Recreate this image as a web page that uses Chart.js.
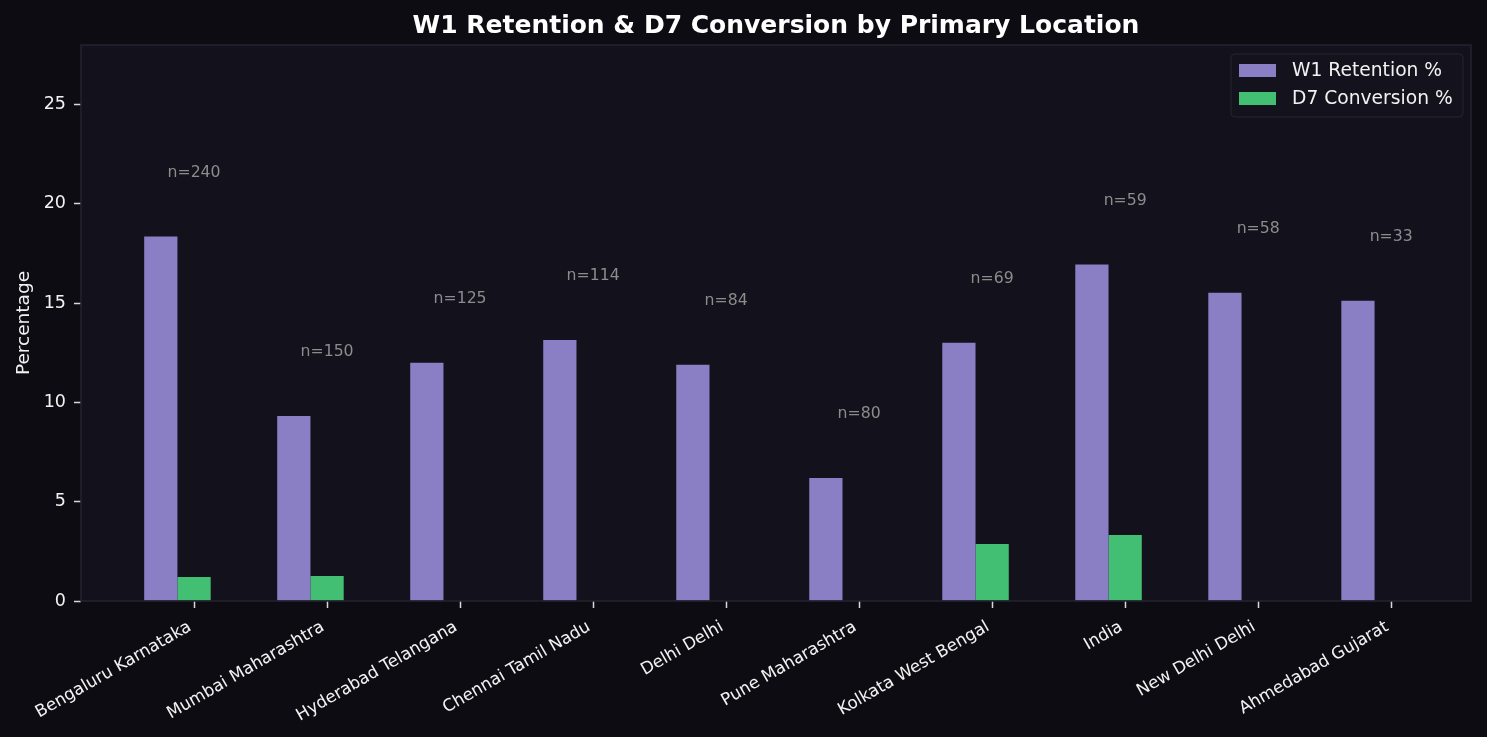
<!DOCTYPE html>
<html>
<head>
<meta charset="utf-8">
<script src="https://cdn.jsdelivr.net/npm/chart.js@4/dist/chart.umd.min.js"></script>
<style>
  html, body { margin: 0; padding: 0; background: #0e0c13; }
  canvas { display: block; }
</style>
</head>
<body>
<canvas id="locationChart" width="1487" height="737"></canvas>
<script>
const locations = [
  "Bengaluru Karnataka", "Mumbai Maharashtra", "Hyderabad Telangana",
  "Chennai Tamil Nadu", "Delhi Delhi", "Pune Maharashtra",
  "Kolkata West Bengal", "India", "New Delhi Delhi", "Ahmedabad Gujarat"
];
const w1Retention = [18.35, 9.32, 12.0, 13.15, 11.9, 6.2, 13.0, 16.94, 15.52, 15.12];
const d7Conversion = [1.21, 1.26, 0, 0, 0, 0, 2.87, 3.33, 0, 0];
const sampleSizes = [240, 150, 125, 114, 84, 80, 69, 59, 58, 33];
const yTicks = [0, 5, 10, 15, 20, 25];
const chartTitle = "W1 Retention & D7 Conversion by Primary Location";

const AX_BG = "#13111c";
const SPINE = "#25232f";
const TEXT = "#f2f2f2";
// the pair of bars sits left of the tick (W1 at i-0.25, D7 at i), like the source plot
const groupShift = -0.125;

// title, plot background + frame, n= labels, legend box
const decor = {
  id: "decor",
  beforeDatasetsDraw(chart) {
    const { ctx, chartArea: a } = chart;
    ctx.save();
    ctx.fillStyle = AX_BG;
    ctx.fillRect(a.left, a.top, a.right - a.left, a.bottom - a.top);
    ctx.restore();
  },
  afterDatasetsDraw(chart) {
    const { ctx, chartArea: a, scales } = chart;
    ctx.save();
    ctx.strokeStyle = SPINE;
    ctx.lineWidth = 1.5;
    ctx.strokeRect(a.left, a.top, a.right - a.left, a.bottom - a.top);

    ctx.fillStyle = "#ffffff";
    ctx.font = "bold 25px 'DejaVu Sans'";
    ctx.textAlign = "center";
    ctx.textBaseline = "middle";
    ctx.fillText(chartTitle, (a.left + a.right) / 2, 26);

    ctx.fillStyle = "#8c8c8c";
    ctx.font = "15.7px 'DejaVu Sans'";
    ctx.textBaseline = "alphabetic";
    sampleSizes.forEach((n, i) => {
      const top = Math.max(w1Retention[i], d7Conversion[i]) + 3;
      ctx.fillText("n=" + n, scales.x.getPixelForValue(i), scales.y.getPixelForValue(top));
    });

    // legend
    const lx = a.right - 240, ly = a.top + 9, lw = 232, lh = 63;
    ctx.fillStyle = "#14121d";
    ctx.strokeStyle = "#262430";
    ctx.lineWidth = 1;
    ctx.beginPath();
    ctx.roundRect(lx, ly, lw, lh, 4);
    ctx.fill();
    ctx.stroke();
    ctx.font = "18.7px 'DejaVu Sans'";
    ctx.textAlign = "left";
    ctx.textBaseline = "middle";
    chart.data.datasets.forEach((ds, k) => {
      const cy = ly + 16.5 + k * 28;
      ctx.fillStyle = ds.backgroundColor;
      ctx.fillRect(lx + 8, cy - 6.5, 37, 13);
      ctx.fillStyle = TEXT;
      ctx.fillText(ds.label, lx + 61, cy + 1);
    });
    ctx.restore();
  }
};

new Chart(document.getElementById("locationChart"), {
  type: "bar",
  data: {
    datasets: [
      {
        label: "W1 Retention %",
        data: locations.map((_, i) => ({ x: i + groupShift, y: w1Retention[i] })),
        backgroundColor: "#8a7fc4",
        categoryPercentage: 0.5,
        barPercentage: 1.0,
      },
      {
        label: "D7 Conversion %",
        data: locations.map((_, i) => ({ x: i + groupShift, y: d7Conversion[i] })),
        backgroundColor: "#42bf72",
        categoryPercentage: 0.5,
        barPercentage: 1.0,
      },
    ],
  },
  options: {
    responsive: false,
    animation: false,
    events: [],
    layout: { padding: { left: 0, right: 16, top: 45, bottom: 0 } },
    scales: {
      x: {
        type: "linear",
        min: -0.85,
        max: 9.6,
        offset: false,
        grid: { drawOnChartArea: false, offset: false, color: "#d8d8d8", tickLength: 7, tickWidth: 1.5 },
        border: { display: false },
        afterBuildTicks: (scale) => {
          scale.ticks = locations.map((_, i) => ({ value: i }));
        },
        afterFit: (scale) => { scale.height = 136; },
        ticks: {
          autoSkip: false,
          minRotation: 30,
          maxRotation: 30,
          padding: 9,
          labelOffset: -4,
          color: TEXT,
          font: { family: "'DejaVu Sans'", size: 16.8 },
          callback: (v) => locations[v],
        },
      },
      y: {
        min: 0,
        max: 28,
        grid: { drawOnChartArea: false, color: "#d8d8d8", tickLength: 7, tickWidth: 1.5 },
        border: { display: false },
        afterBuildTicks: (scale) => {
          scale.ticks = yTicks.map((v) => ({ value: v }));
        },
        afterFit: (scale) => { scale.width = 81; },
        ticks: {
          padding: 8,
          color: TEXT,
          font: { family: "'DejaVu Sans'", size: 17.5 },
        },
        title: {
          display: true,
          text: "Percentage",
          color: TEXT,
          padding: { top: 13, bottom: 0 },
          font: { family: "'DejaVu Sans'", size: 18.5 },
        },
      },
    },
    plugins: {
      legend: { display: false },
      tooltip: { enabled: false },
      title: { display: false },
    },
  },
  plugins: [decor],
});
</script>
</body>
</html>
